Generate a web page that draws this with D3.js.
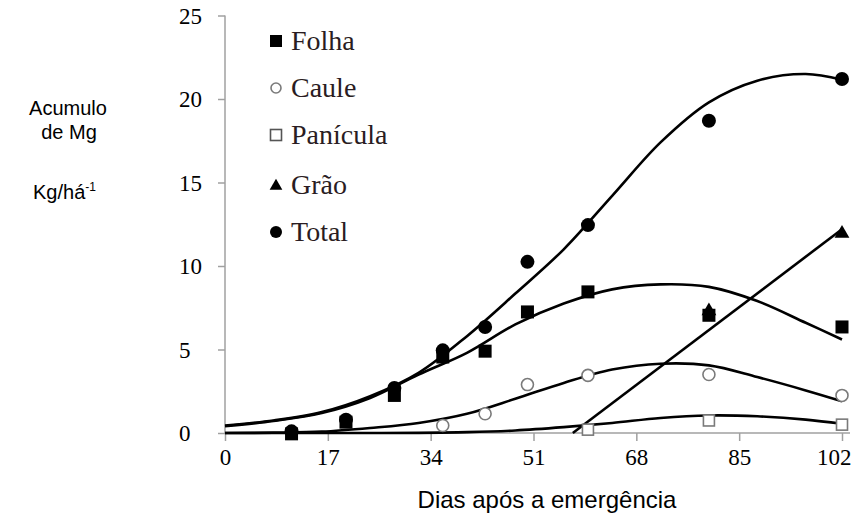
<!DOCTYPE html>
<html>
<head>
<meta charset="utf-8">
<script src="https://cdn.jsdelivr.net/npm/d3@7"></script>
<style>
  body { margin: 0; background: #fff; }
  svg { display: block; }
</style>
</head>
<body>
<div id="chart"></div>
<script>
// observed points (days after emergence)
var days = [11, 20, 28, 36, 43, 50, 60, 80, 102];
var folha = [-0.05, 0.65, 2.25, 4.55, 4.9, 7.25, 8.45, 7.05, 6.35];
var total = [0.1, 0.8, 2.7, 4.95, 6.35, 10.25, 12.45, 18.7, 21.2];
var cauleDays = [36, 43, 50, 60, 80, 102];
var caule = [0.45, 1.15, 2.9, 3.45, 3.5, 2.25];
var paniculaDays = [60, 80, 102];
var panicula = [0.2, 0.75, 0.5];
var graoDays = [80, 102];
var grao = [7.3, 11.95];

// fitted trend lines
var fitDays = [0, 8, 16, 24, 32, 40, 48, 56, 64, 72, 80, 88, 96, 102];
var totalFit = [0.45, 0.75, 1.25, 2.2, 3.6, 5.8, 8.35, 11.0, 14.2, 17.4, 19.8, 21.1, 21.5, 21.15];
var folhaFit = [0.4, 0.72, 1.2, 2.1, 3.5, 4.8, 6.5, 7.75, 8.6, 8.9, 8.75, 7.9, 6.6, 5.6];
var cauleFit = [0, 0.02, 0.08, 0.3, 0.6, 1.15, 2.05, 3.0, 3.8, 4.15, 4.05, 3.35, 2.55, 1.9];
var paniculaFit = [0, 0, 0, 0, 0.01, 0.05, 0.15, 0.35, 0.6, 0.9, 1.05, 1.0, 0.8, 0.55];
var graoFitDays = [57.5, 102];
var graoFit = [0, 12.2];

var xTicks = [0, 17, 34, 51, 68, 85, 102];
var yTicks = [0, 5, 10, 15, 20, 25];
var legendNames = ["Folha", "Caule", "Panícula", "Grão", "Total"];

var width = 851, height = 520;
var serif = "'Liberation Serif', 'Times New Roman', serif";
var sans = "'Liberation Sans', Arial, sans-serif";
var axisColor = "#a0a0a0";

var svg = d3.select("#chart").append("svg")
    .attr("width", width)
    .attr("height", height);

var x = d3.scaleLinear().domain([0, 102]).range([225, 842]);
var y = d3.scaleLinear().domain([0, 25]).range([433, 15.5]);

// axes
var xAxis = svg.append("g")
    .attr("transform", "translate(0," + y(0) + ")")
    .call(d3.axisBottom(x).tickValues(xTicks).tickSize(8).tickSizeOuter(0).tickPadding(8));
xAxis.select(".domain").remove();
xAxis.selectAll(".tick line").attr("stroke", axisColor).attr("stroke-width", 1.5);
xAxis.selectAll(".tick text")
    .attr("font-family", serif).attr("font-size", 23).attr("fill", "#000");
// last label sits against the right edge
xAxis.selectAll(".tick text").filter(function(d) { return d === 102; })
    .attr("text-anchor", "end").attr("x", 9);

var yAxis = svg.append("g")
    .attr("transform", "translate(" + x(0) + ",0)")
    .call(d3.axisLeft(y).tickValues(yTicks).tickSize(7).tickSizeOuter(0));
yAxis.select(".domain").remove();
yAxis.selectAll(".tick line").attr("stroke", axisColor).attr("stroke-width", 1.5);
yAxis.selectAll(".tick text")
    .attr("font-family", serif).attr("font-size", 23).attr("fill", "#000")
    .attr("text-anchor", "start").attr("x", -46).attr("dy", "0.34em");

svg.append("line")
    .attr("x1", x(0)).attr("x2", x(0))
    .attr("y1", y(0)).attr("y2", y(25))
    .attr("stroke", axisColor).attr("stroke-width", 1.5);
svg.append("line")
    .attr("x1", x(0)).attr("x2", 850)
    .attr("y1", y(0)).attr("y2", y(0))
    .attr("stroke", axisColor).attr("stroke-width", 1.5);

// trend lines
var line = d3.line()
    .x(function(d) { return x(d[0]); })
    .y(function(d) { return y(d[1]); })
    .curve(d3.curveCatmullRom.alpha(0.5));

function pairs(xs, ys) {
    return xs.map(function(v, i) { return [v, ys[i]]; });
}

[paniculaFit, cauleFit, folhaFit, totalFit].forEach(function(fit) {
    svg.append("path")
        .datum(pairs(fitDays, fit))
        .attr("d", line)
        .attr("fill", "none")
        .attr("stroke", "#000")
        .attr("stroke-width", 2.6);
});
svg.append("path")
    .datum(pairs(graoFitDays, graoFit))
    .attr("d", line.curve(d3.curveLinear))
    .attr("fill", "none")
    .attr("stroke", "#000")
    .attr("stroke-width", 2.6);

// markers
function drawSquares(xs, ys, size, filled) {
    svg.append("g").selectAll("rect")
        .data(pairs(xs, ys))
        .enter().append("rect")
        .attr("x", function(d) { return x(d[0]) - size / 2; })
        .attr("y", function(d) { return y(d[1]) - size / 2; })
        .attr("width", size).attr("height", size)
        .attr("fill", filled ? "#000" : "#fff")
        .attr("stroke", filled ? "#000" : "#7a7a7a")
        .attr("stroke-width", filled ? 0 : 1.6);
}
function drawCircles(xs, ys, r, filled) {
    svg.append("g").selectAll("circle")
        .data(pairs(xs, ys))
        .enter().append("circle")
        .attr("cx", function(d) { return x(d[0]); })
        .attr("cy", function(d) { return y(d[1]); })
        .attr("r", r)
        .attr("fill", filled ? "#000" : "#fff")
        .attr("stroke", filled ? "none" : "#7a7a7a")
        .attr("stroke-width", 1.6);
}
var tri = d3.symbol().type(d3.symbolTriangle).size(95);

drawSquares(paniculaDays, panicula, 11, false);
drawCircles(cauleDays, caule, 6, false);
svg.append("g").selectAll("path")
    .data(pairs(graoDays, grao))
    .enter().append("path")
    .attr("d", tri)
    .attr("transform", function(d) { return "translate(" + x(d[0]) + "," + y(d[1]) + ")"; })
    .attr("fill", "#000");
drawCircles(days, total, 7, true);
drawSquares(days, folha, 13, true);

// legend
var legend = svg.append("g");
var legendY = [41, 88, 135, 185, 232];
var lx = 276;
legend.append("rect").attr("x", lx - 6).attr("y", legendY[0] - 6).attr("width", 12).attr("height", 12).attr("fill", "#000");
legend.append("circle").attr("cx", lx).attr("cy", legendY[1]).attr("r", 5)
    .attr("fill", "#fff").attr("stroke", "#7a7a7a").attr("stroke-width", 1.6);
legend.append("rect").attr("x", lx - 5.5).attr("y", legendY[2] - 5.5).attr("width", 11).attr("height", 11)
    .attr("fill", "#fff").attr("stroke", "#555").attr("stroke-width", 1.6);
legend.append("path").attr("d", d3.symbol().type(d3.symbolTriangle).size(70))
    .attr("transform", "translate(" + lx + "," + (legendY[3] + 1) + ")").attr("fill", "#000");
legend.append("circle").attr("cx", lx).attr("cy", legendY[4]).attr("r", 6).attr("fill", "#000");

legend.selectAll("text")
    .data(legendNames)
    .enter().append("text")
    .attr("x", 291)
    .attr("y", function(d, i) { return legendY[i] + 9; })
    .attr("font-family", serif)
    .attr("font-size", 28)
    .attr("fill", "#2a1c22")
    .text(function(d) { return d; });

// axis titles
var ylab = svg.append("g").attr("font-family", sans).attr("font-size", 20).attr("fill", "#000");
ylab.append("text").attr("x", 68).attr("y", 115).attr("text-anchor", "middle").text("Acumulo");
ylab.append("text").attr("x", 69).attr("y", 139).attr("text-anchor", "middle").text("de Mg");
var kg = ylab.append("text").attr("x", 33).attr("y", 199);
kg.append("tspan").text("Kg/há");
kg.append("tspan").attr("font-size", 12).attr("dy", -8).text("-1");

svg.append("text")
    .attr("x", 547).attr("y", 508)
    .attr("text-anchor", "middle")
    .attr("font-family", sans)
    .attr("font-size", 24)
    .attr("fill", "#000")
    .text("Dias após a emergência");
</script>
</body>
</html>
